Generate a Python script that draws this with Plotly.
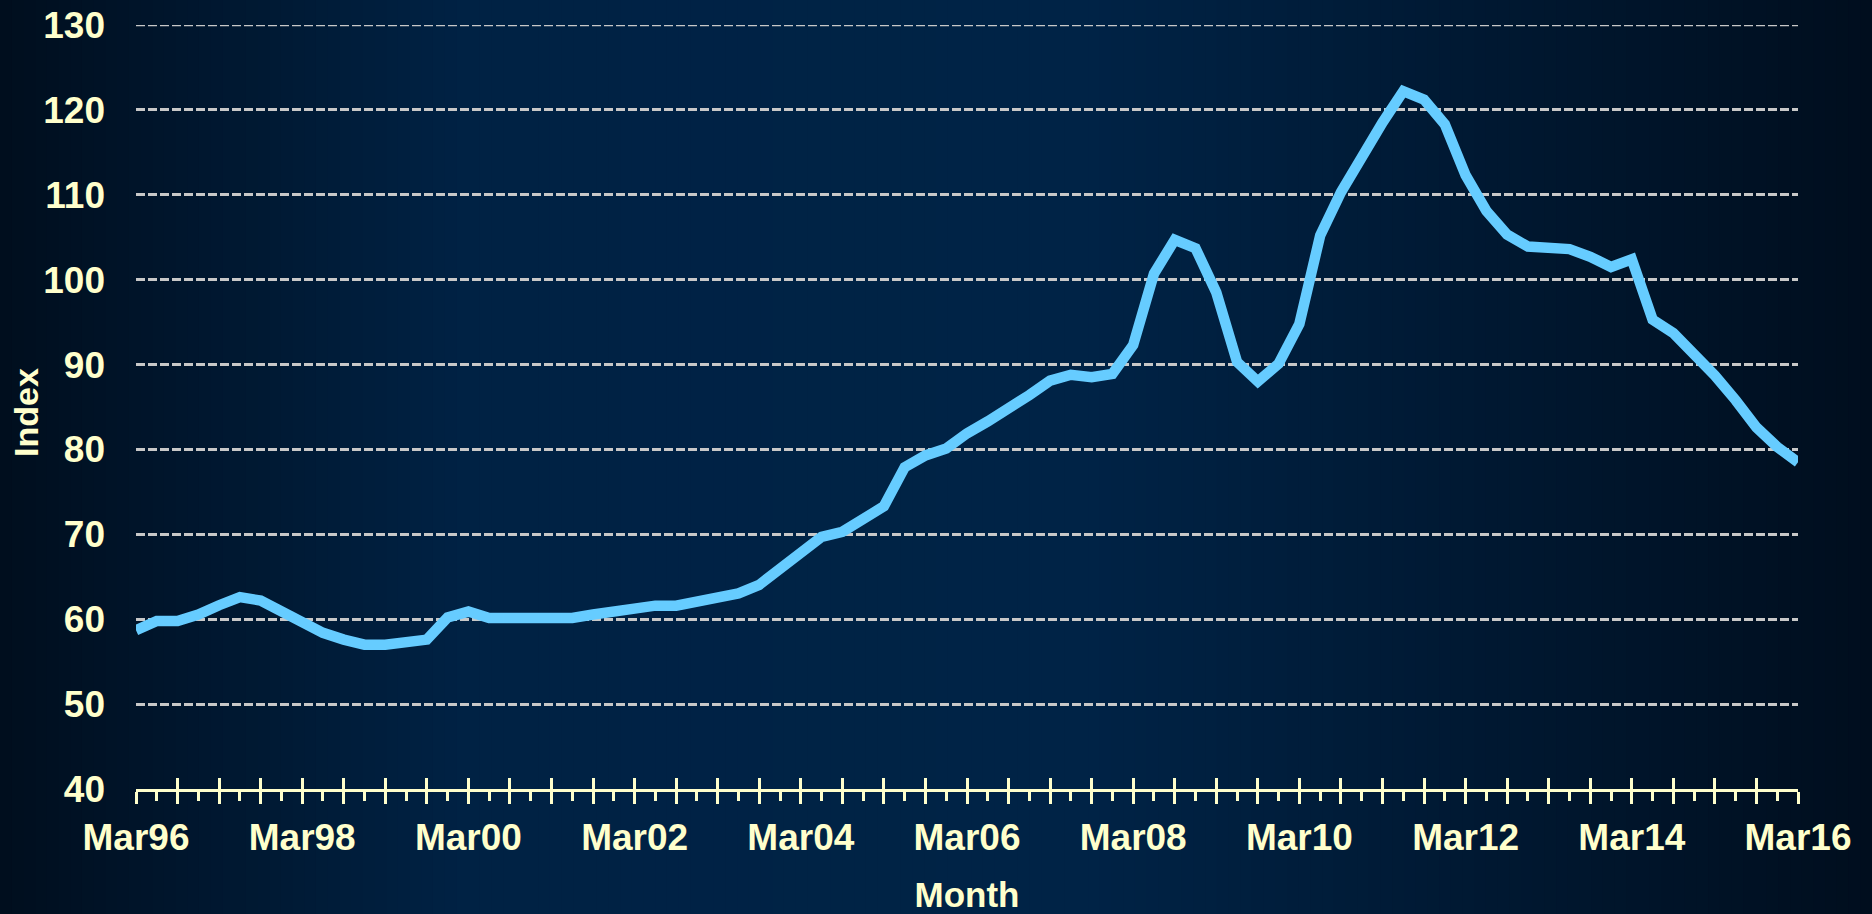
import plotly.graph_objects as go

# ---- data -------------------------------------------------------------
months = ["Mar", "Jun", "Sep", "Dec"]
years = ["96", "97", "98", "99", "00", "01", "02", "03", "04", "05",
         "06", "07", "08", "09", "10", "11", "12", "13", "14", "15", "16"]
quarters = [m + y for y in years for m in months][:81]   # Mar96 .. Mar16

index_values = [
    58.7, 59.8, 59.8, 60.55, 61.65, 62.6, 62.2, 60.9, 59.4, 58.4,
    57.6, 57.0, 57.0, 57.3, 57.6, 60.2, 60.9, 60.15, 60.15, 60.15,
    60.15, 60.15, 60.55, 60.9, 61.25, 61.6, 61.6, 62.0, 62.35, 63.05,
    64.05, 65.9, 67.9, 69.7, 70.3, 71.7, 73.3, 77.9, 79.3, 80.1,
    81.9, 83.3, 84.7, 86.4, 88.1, 88.8, 88.5, 88.9, 92.3, 100.7,
    104.7, 103.7, 98.5, 90.3, 88.0, 90.1, 94.8, 105.2, 110.3, 114.5,
    118.5, 122.2, 121.2, 118.3, 112.3, 108.1, 105.3, 103.9, 103.6, 103.6,
    102.7, 101.5, 102.4, 95.3, 93.7, 91.4, 88.7, 85.8, 82.6, 80.3,
    78.5,
]

x_labels = ["Mar96", "Mar98", "Mar00", "Mar02", "Mar04", "Mar06",
            "Mar08", "Mar10", "Mar12", "Mar14", "Mar16"]
y_ticks = [40, 50, 60, 70, 80, 90, 100, 110, 120, 130]
x_title = "Month"
y_title = "Index"

# ---- styling ----------------------------------------------------------
W, H = 1872, 914
ML, MR, MT, MB = 136, 74, 25, 125
CREAM = "#FFFFCC"
LINE = "#66CCFF"
GRID = "#C8C8C8"
FONT = "Liberation Sans, Arial, sans-serif"

x_pos = list(range(len(quarters)))
major_vals = x_pos[::2]
major_text = [q if q in x_labels else "" for q in quarters[::2]]
minor_vals = x_pos[1::2]

fig = go.Figure()
fig.add_trace(go.Scatter(
    x=x_pos, y=index_values, mode="lines",
    line=dict(color=LINE, width=10.5),
    customdata=quarters, hovertemplate="%{customdata}: %{y}<extra></extra>",
    showlegend=False,
))
# invisible trace to activate the overlay axis that draws the upper tick halves
fig.add_trace(go.Scatter(
    x=x_pos, y=index_values, xaxis="x2", mode="lines",
    line=dict(width=0), opacity=0, hoverinfo="skip", showlegend=False,
))

# background gradient (dark edges, lighter navy centre)
stops = [(0.0, (0, 14, 30)), (0.25, (0, 34, 68)), (0.58, (0, 35, 70)), (1.0, (0, 14, 30))]

def col_at(t):
    for (t0, c0), (t1, c1) in zip(stops[:-1], stops[1:]):
        if t0 <= t <= t1:
            f = (t - t0) / (t1 - t0)
            return "rgb(%d,%d,%d)" % tuple(round(a + (b - a) * f) for a, b in zip(c0, c1))
    return "rgb(%d,%d,%d)" % stops[-1][1]

pw, ph = W - ML - MR, H - MT - MB
N = 160
shapes = []
for k in range(N):
    px0 = W * k / N
    px1 = W * (k + 1) / N + 1.5
    shapes.append(dict(
        type="rect", xref="paper", yref="paper", layer="below",
        x0=(px0 - ML) / pw, x1=(px1 - ML) / pw,
        y0=-(MB + 2) / ph, y1=1 + (MT + 2) / ph,
        fillcolor=col_at((k + 0.5) / N), line=dict(width=0),
    ))
# top gridline (Plotly drops the grid line sitting on the plot edge)
shapes.append(dict(
    type="line", xref="paper", yref="y", layer="below",
    x0=0, x1=1, y0=y_ticks[-1], y1=y_ticks[-1],
    line=dict(color=GRID, width=2.5, dash="9px,3px"),
))

fig.update_layout(
    width=W, height=H,
    margin=dict(l=ML, r=MR, t=MT, b=MB, pad=0, autoexpand=False),
    paper_bgcolor="#00112A", plot_bgcolor="rgba(0,0,0,0)",
    shapes=shapes,
    font=dict(family=FONT, color=CREAM, size=37, weight="bold"),
    xaxis=dict(
        range=[0, len(quarters) - 1], tickmode="array",
        tickvals=major_vals, ticktext=major_text,
        ticks="outside", ticklen=12, tickwidth=3, tickcolor=CREAM,
        minor=dict(tickvals=minor_vals, ticks="outside", ticklen=9,
                   tickwidth=3, tickcolor=CREAM, showgrid=False),
        showline=True, linecolor=CREAM, linewidth=3,
        showgrid=False, zeroline=False, automargin=False,
        tickfont=dict(family=FONT, size=37, color=CREAM, weight="bold"),
        ticklabelstandoff=2,
        title=dict(text=x_title, standoff=30,
                   font=dict(family=FONT, size=35, color=CREAM, weight="bold")),
    ),
    xaxis2=dict(
        overlaying="x", anchor="y", side="bottom",
        range=[0, len(quarters) - 1], tickmode="array", tickvals=major_vals,
        ticks="inside", ticklen=11, tickwidth=3, tickcolor=CREAM,
        showticklabels=False, showline=False, showgrid=False, zeroline=False,
        automargin=False,
    ),
    yaxis=dict(
        range=[40, 130], tickmode="array", tickvals=y_ticks,
        showgrid=True, gridcolor=GRID, gridwidth=2.5, griddash="9px,3px",
        zeroline=False, showline=False, ticks="", automargin=False,
        tickfont=dict(family=FONT, size=37, color=CREAM, weight="bold"),
        ticklabelstandoff=30,
    ),
    annotations=[dict(
        text=y_title, textangle=-90, showarrow=False,
        xref="paper", yref="paper", x=(26 - ML) / pw, y=(H - MB - 413) / ph,
        xanchor="center", yanchor="middle",
        font=dict(family=FONT, size=34, color=CREAM, weight="bold"),
    )],
    hovermode="closest",
)

fig.write_html(
    "out.html",
    config={"displayModeBar": False},
    post_script="document.body.style.margin='0';document.body.style.overflow='hidden';",
)
